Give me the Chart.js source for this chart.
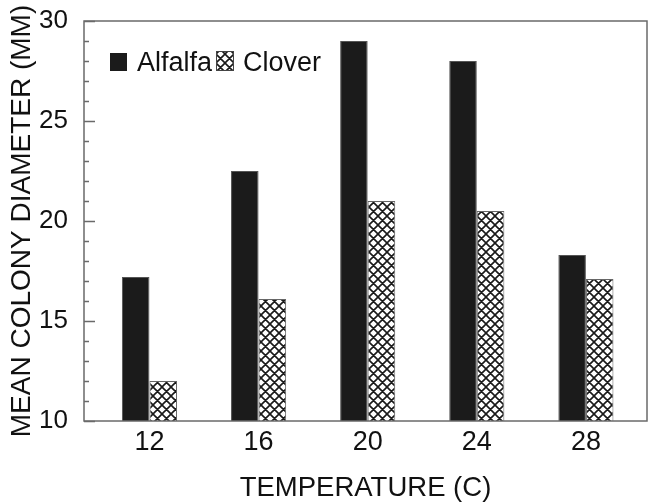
<!DOCTYPE html>
<html>
<head>
<meta charset="utf-8">
<script src="https://cdn.jsdelivr.net/npm/chart.js@4.4.1/dist/chart.umd.min.js"></script>
<style>
  html, body { margin: 0; padding: 0; background: #fff; }
</style>
</head>
<body>
<canvas id="colonyChart" width="649" height="503"></canvas>
<script>
const temps = [12, 16, 20, 24, 28];
const alfalfa = [17.2, 22.5, 29.0, 28.0, 18.3];
const clover = [12.0, 16.1, 21.0, 20.5, 17.1];
const yLabels = [10, 15, 20, 25, 30];

const FONT = "'Liberation Sans', Arial, Helvetica, sans-serif";
const canvas = document.getElementById('colonyChart');
const ctx = canvas.getContext('2d');

// crosshatch fill used for the Clover bars
function makeHatch() {
  const c = document.createElement('canvas');
  c.width = 9; c.height = 9;
  const g = c.getContext('2d');
  g.fillStyle = '#fff';
  g.fillRect(0, 0, 9, 9);
  g.strokeStyle = '#1a1a1a';
  g.lineWidth = 1.6;
  g.beginPath();
  for (let i = -1; i <= 1; i++) {
    g.moveTo(i * 9 - 1, -1); g.lineTo(i * 9 + 10, 10);
    g.moveTo(i * 9 - 1, 10); g.lineTo(i * 9 + 10, -1);
  }
  g.stroke();
  return ctx.createPattern(c, 'repeat');
}
const hatch = makeHatch();

// box around the plot + inward ticks on the y axis
const frameAndTicks = {
  id: 'frameAndTicks',
  afterDatasetsDraw(chart) {
    const { ctx, chartArea: { left, top, right, bottom }, scales: { y } } = chart;
    ctx.save();
    ctx.strokeStyle = '#6a6a6a';
    ctx.lineWidth = 1.5;
    ctx.strokeRect(left, top, right - left, bottom - top);
    ctx.beginPath();
    y.ticks.forEach(t => {
      const py = Math.round(y.getPixelForValue(t.value)) + 0.5;
      const len = yLabels.includes(t.value) ? 11 : 5;
      ctx.moveTo(left, py);
      ctx.lineTo(left + len, py);
    });
    ctx.stroke();
    ctx.restore();
  }
};

// legend sits inside the plot, top-left
const insideLegend = {
  id: 'insideLegend',
  afterDraw(chart) {
    const { ctx, chartArea: { left, top } } = chart;
    const ds = chart.data.datasets;
    ctx.save();
    ctx.font = '27px ' + FONT;
    ctx.textBaseline = 'alphabetic';
    let x = left + 26;
    const base = top + 50;

    ctx.fillStyle = ds[0].backgroundColor;
    ctx.fillRect(x, base - 18, 17, 18);
    ctx.fillStyle = '#111';
    ctx.fillText(ds[0].label, x + 27, base);
    x = left + 132;

    ctx.fillStyle = ds[1].backgroundColor;
    ctx.fillRect(x, base - 20, 18, 20);
    ctx.strokeStyle = '#444';
    ctx.lineWidth = 1;
    ctx.strokeRect(x + 0.5, base - 19.5, 17, 19);
    ctx.fillStyle = '#111';
    ctx.fillText(ds[1].label, x + 27, base);
    ctx.restore();
  }
};

new Chart(ctx, {
  type: 'bar',
  data: {
    datasets: [
      {
        label: 'Alfalfa',
        data: temps.map((t, i) => ({ x: t, y: alfalfa[i] })),
        backgroundColor: '#1b1b1b',
        borderColor: '#555',
        borderWidth: 1,
        base: 10,
        categoryPercentage: 0.505,
        barPercentage: 1
      },
      {
        label: 'Clover',
        data: temps.map((t, i) => ({ x: t, y: clover[i] })),
        backgroundColor: hatch,
        borderColor: '#666',
        borderWidth: 1,
        base: 10,
        categoryPercentage: 0.505,
        barPercentage: 1
      }
    ]
  },
  options: {
    responsive: false,
    animation: false,
    layout: { padding: { top: 21, right: 2, left: 0, bottom: 0 } },
    plugins: {
      legend: { display: false },
      tooltip: { enabled: false }
    },
    scales: {
      x: {
        type: 'linear',
        min: 9.6,
        max: 30.24,
        offset: false,
        grid: { display: false, drawTicks: false },
        border: { display: false },
        afterBuildTicks: s => { s.ticks = temps.map(v => ({ value: v })); },
        ticks: {
          color: '#111',
          font: { family: FONT, size: 27 },
          padding: 5,
          autoSkip: false,
          maxRotation: 0
        },
        title: {
          display: true,
          text: 'TEMPERATURE (C)',
          color: '#111',
          font: { family: FONT, size: 27.5, lineHeight: 1 },
          padding: { top: 0, bottom: 1 }
        },
        afterFit: s => { s.height = 82; s.paddingLeft = 0; s.paddingRight = 0; }
      },
      y: {
        min: 10,
        max: 30,
        grid: { display: false, drawTicks: false },
        border: { display: false },
        ticks: {
          stepSize: 1,
          autoSkip: false,
          color: '#111',
          font: { family: FONT, size: 26 },
          padding: 16,
          callback: v => yLabels.includes(v) ? v : ''
        },
        title: {
          display: true,
          text: 'MEAN COLONY DIAMETER (MM)',
          color: '#111',
          font: { family: FONT, size: 28, lineHeight: 1 },
          padding: { top: 8, bottom: 0 }
        },
        afterFit: s => { s.width = 84; s.paddingTop = 0; s.paddingBottom = 0; }
      }
    }
  },
  plugins: [frameAndTicks, insideLegend]
});
</script>
</body>
</html>
